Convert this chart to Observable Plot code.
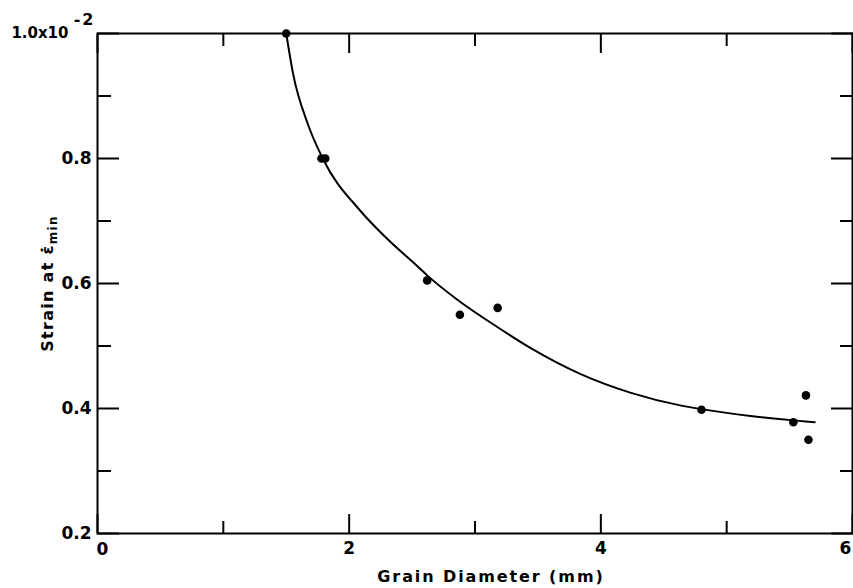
<!DOCTYPE html>
<html><head><meta charset="utf-8">
<script src="https://cdn.jsdelivr.net/npm/d3@7"></script>
<script src="https://cdn.jsdelivr.net/npm/@observablehq/plot@0.6"></script>
<style>
body{margin:0;background:#fff}
svg{font-family:"DejaVu Sans",sans-serif;color:#000}
</style>
</head><body><div id="chart"></div>
<script>
// Measured points: grain diameter (mm) vs strain at minimum creep rate (x10^-2)
const grainDiameter = [1.50, 1.78, 1.81, 2.62, 2.88, 3.18, 4.80, 5.53, 5.63, 5.65];
const strainAtMinRate = [1.000, 0.800, 0.800, 0.605, 0.550, 0.561, 0.398, 0.378, 0.421, 0.350];

// Hand-drawn fitted curve
const curveX = [1.50, 1.555, 1.67, 1.79, 2.09, 2.30, 2.54, 2.62, 2.86, 3.18, 3.44, 3.84, 4.24, 4.63, 4.80, 5.19, 5.53, 5.70];
const curveY = [1.000, 0.935, 0.856, 0.800, 0.716, 0.672, 0.628, 0.613, 0.574, 0.530, 0.497, 0.455, 0.425, 0.405, 0.399, 0.388, 0.381, 0.378];

const xMajorTicks = [0, 2, 4, 6];
const xMinorTicks = [1, 3, 5];
const yMajorTicks = [0.2, 0.4, 0.6, 0.8, 1.0];
const yMinorTicks = [0.3, 0.5, 0.7, 0.9];
const xTickLabelsInner = [2, 4];
const yTickLabels = [0.2, 0.4, 0.6, 0.8];
const yTopLabel = "1.0x10";
const yTopExponent = "-2";
const xLabel = "Grain Diameter (mm)";
const yLabelMain = "Strain at \u03B5\u0307";
const yLabelSub = "min";

const points = grainDiameter.map((d, i) => ({x: d, y: strainAtMinRate[i]}));
const curve = curveX.map((d, i) => ({x: d, y: curveY[i]}));

function tickAxis(kind, anchor, values, size) {
  const f = kind === "x" ? Plot.axisX : Plot.axisY;
  return f({anchor, ticks: values, tickSize: -size, tickFormat: () => "", label: null, strokeWidth: 2});
}
const lab = {tickSize: 0, label: null, fontSize: 17, fontWeight: "bold"};

const plot = Plot.plot({
  width: 853,
  height: 588,
  marginLeft: 97,
  marginRight: 1,
  marginTop: 33,
  marginBottom: 55,
  x: {domain: [0, 6]},
  y: {domain: [0.2, 1.0]},
  marks: [
    tickAxis("x", "bottom", xMajorTicks, 19),
    tickAxis("x", "bottom", xMinorTicks, 12),
    tickAxis("x", "top", xMajorTicks, 19),
    tickAxis("x", "top", xMinorTicks, 12),
    tickAxis("y", "left", yMajorTicks, 22),
    tickAxis("y", "left", yMinorTicks, 14),
    tickAxis("y", "right", yMajorTicks, 22),
    tickAxis("y", "right", yMinorTicks, 13),
    Plot.axisX({...lab, anchor: "bottom", ticks: xTickLabelsInner, tickPadding: 8, tickFormat: d => String(d)}),
    Plot.axisX({...lab, anchor: "bottom", ticks: [xMajorTicks[0]], tickPadding: 9, dx: 5, tickFormat: d => String(d)}),
    Plot.axisX({...lab, anchor: "bottom", ticks: [xMajorTicks[3]], tickPadding: 8, dx: -7, tickFormat: d => String(d)}),
    Plot.axisY({...lab, anchor: "left", ticks: yTickLabels, tickPadding: 6, tickFormat: d => d.toFixed(1)}),
    Plot.axisY({...lab, anchor: "left", ticks: [1.0], tickPadding: 29, fontSize: 15, tickFormat: () => yTopLabel}),
    Plot.axisY({...lab, anchor: "left", ticks: [1.0], tickPadding: 2, dy: -14, fontSize: 16, tickFormat: () => yTopExponent, className: "expo"}),
    Plot.frame({strokeWidth: 2}),
    Plot.line(curve, {x: "x", y: "y", curve: "monotone-x", strokeWidth: 2}),
    Plot.dot(points, {x: "x", y: "y", r: 4.3, fill: "black"}),
    Plot.text([xLabel], {frameAnchor: "bottom", dy: 48, dx: 16, fontSize: 16, fontWeight: "bold", className: "xlab"}),
    Plot.text([yLabelMain], {frameAnchor: "left", textAnchor: "middle", dx: -50, rotate: -90, fontSize: 16, fontWeight: "bold", className: "ylab"})
  ]
});

document.getElementById("chart").appendChild(plot);

const svg = d3.select(plot);
svg.selectAll(".xlab text").style("letter-spacing", "1.9px");
svg.selectAll(".expo text").style("letter-spacing", "2px");
svg.selectAll(".ylab text").each(function() {
  const t = d3.select(this);
  t.style("letter-spacing", "1.3px");
  t.append("tspan").attr("font-size", 12).attr("dy", "0.35em").text(yLabelSub);
});
</script>
</body></html>
